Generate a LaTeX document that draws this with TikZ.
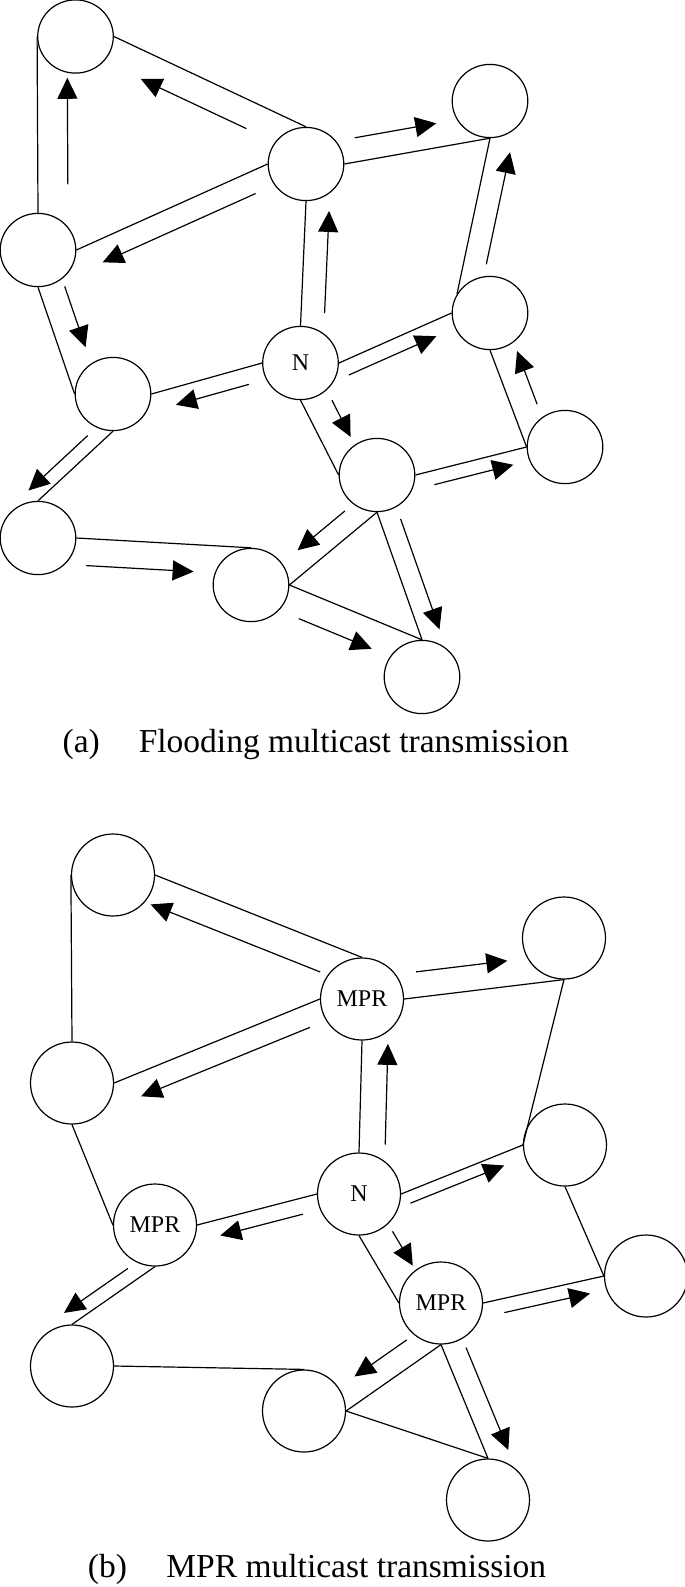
\documentclass[tikz,border=0pt]{standalone}
\usepackage{fontspec}
\setmainfont{Liberation Serif}
\usetikzlibrary{arrows.meta,shapes.geometric,calc}
\newcommand{\flowl}[5]{\draw[flow] ($(#1)!#3!(#2)!#5!90:(#2)$) -- ($(#1)!#4!(#2)!#5!-90:(#1)$);}
\newcommand{\flowr}[5]{\draw[flow] ($(#1)!#3!(#2)!#5!-90:(#2)$) -- ($(#1)!#4!(#2)!#5!90:(#1)$);}
\begin{document}
\begin{tikzpicture}[x=1pt,y=-1pt,line width=1.2pt,
    stna/.style={draw,ellipse,minimum width=75.6pt,minimum height=73.2pt,inner sep=2pt,font=\fontsize{24}{28}\selectfont},
    stnb/.style={stna,minimum width=83pt,minimum height=82pt},
    flow/.style={-{Triangle[length=21pt,width=20pt]}},
    captext/.style={anchor=base west,inner sep=0pt,font=\fontsize{33.5}{40}\selectfont}]
    \useasboundingbox (0,0) rectangle (685,1587);

    \node[stna] (A1) at (75.5,36.5) {};
    \node[stna] (B1) at (306,164) {};
    \node[stna] (C1) at (490,101) {};
    \node[stna] (D1) at (38,250) {};
    \node[stna] (E1) at (490,313) {};
    \node[stna] (N1) at (300.5,363) {N};
    \node[stna] (F1) at (113,394) {};
    \node[stna] (G1) at (565,447) {};
    \node[stna] (H1) at (377,475) {};
    \node[stna] (I1) at (38,538) {};
    \node[stna] (J1) at (251,585) {};
    \node[stna] (K1) at (422,677) {};

    \draw (A1.west) -- (D1.north);
    \draw (A1.east) -- (B1.north);
    \draw (B1.east) -- (C1.south);
    \draw (B1.west) -- (D1.east);
    \draw (B1.south) -- (N1.north);
    \draw (C1.south) -- (E1.150);
    \draw (D1.south) -- (F1.west);
    \draw (N1.west) -- (F1.east);
    \draw (N1.east) -- (E1.west);
    \draw (N1.south) -- (H1.west);
    \draw (E1.south) -- (G1.west);
    \draw (H1.east) -- (G1.west);
    \draw (F1.south) -- (I1.north);
    \draw (I1.east) -- (J1.north);
    \draw (H1.south) -- (J1.east);
    \draw (H1.south) -- (K1.north);
    \draw (J1.east) -- (K1.north);

    \flowr{D1.north}{A1.west}{.16}{.765}{30pt}
    \flowl{B1.north}{A1.east}{.25}{.80}{27pt}
    \flowl{B1.east}{C1.south}{.10}{.66}{24pt}
    \flowl{B1.west}{D1.east}{.11}{.91}{22pt}
    \flowr{N1.north}{B1.south}{.11}{.93}{23.5pt}
    \flowr{E1.150}{C1.south}{.22}{.94}{22.5pt}
    \flowl{D1.south}{F1.west}{.07}{.64}{25.5pt}
    \flowl{N1.west}{F1.east}{.16}{.82}{17pt}
    \flowr{N1.east}{E1.west}{.035}{.81}{15pt}
    \flowl{N1.south}{H1.west}{.17}{.66}{28pt}
    \flowr{G1.west}{E1.south}{.35}{.90}{25pt}
    \flowr{F1.south}{I1.north}{.21}{1}{14pt}
    \flowr{H1.east}{G1.west}{.14}{.85}{14pt}
    \flowr{H1.south}{J1.east}{.21}{.75}{21.5pt}
    \flowl{H1.south}{K1.north}{.105}{.97}{20pt}
    \flowr{I1.east}{J1.north}{.064}{.68}{27pt}
    \flowr{J1.east}{K1.north}{.15}{.70}{27.5pt}

    \node[captext] (capa) at (62,752.5) {(a)\hspace{39pt}Flooding multicast transmission};

    \node[stnb] (A2) at (113,875) {};
    \node[stnb] (B2) at (362,999) {MPR};
    \node[stnb] (C2) at (564,938) {};
    \node[stnb] (D2) at (72,1083) {};
    \node[stnb] (E2) at (565,1145) {};
    \node[stnb] (N2) at (359,1194) {N};
    \node[stnb] (F2) at (155,1225) {MPR};
    \node[stnb] (G2) at (646,1276) {};
    \node[stnb] (H2) at (441,1303) {MPR};
    \node[stnb] (I2) at (72,1366) {};
    \node[stnb] (J2) at (304,1411) {};
    \node[stnb] (K2) at (488,1500) {};

    \draw (A2.west) -- (D2.north);
    \draw (A2.east) -- (B2.north);
    \draw (B2.east) -- (C2.south);
    \draw (B2.west) -- (D2.east);
    \draw (B2.south) -- (N2.north);
    \draw (C2.south) -- (E2.west);
    \draw (D2.south) -- (F2.west);
    \draw (N2.west) -- (F2.east);
    \draw (N2.east) -- (E2.west);
    \draw (N2.south) -- (H2.west);
    \draw (E2.south) -- (G2.west);
    \draw (H2.east) -- (G2.west);
    \draw (F2.south) -- (I2.north);
    \draw (I2.east) -- (J2.north);
    \draw (H2.south) -- (J2.east);
    \draw (H2.south) -- (K2.north);
    \draw (J2.east) -- (K2.north);

    \flowl{B2.north}{A2.east}{.15}{.97}{29pt}
    \flowl{B2.east}{C2.south}{.094}{.665}{25.5pt}
    \flowl{B2.west}{D2.east}{.09}{.91}{22.5pt}
    \flowr{N2.north}{B2.south}{.077}{.977}{26pt}
    \flowr{N2.east}{E2.west}{.04}{.81}{12pt}
    \flowl{N2.west}{F2.east}{.15}{.84}{16pt}
    \flowl{N2.south}{H2.west}{.17}{.68}{31pt}
    \flowr{F2.south}{I2.north}{.23}{1}{14pt}
    \flowr{H2.east}{G2.west}{.15}{.86}{14pt}
    \flowr{H2.south}{J2.east}{.22}{.77}{23.5pt}
    \flowl{H2.south}{K2.north}{.10}{1}{22pt}

    \node[captext] (capb) at (87.3,1577) {(b)\hspace{39.5pt}MPR multicast transmission};
\end{tikzpicture}
\end{document}
